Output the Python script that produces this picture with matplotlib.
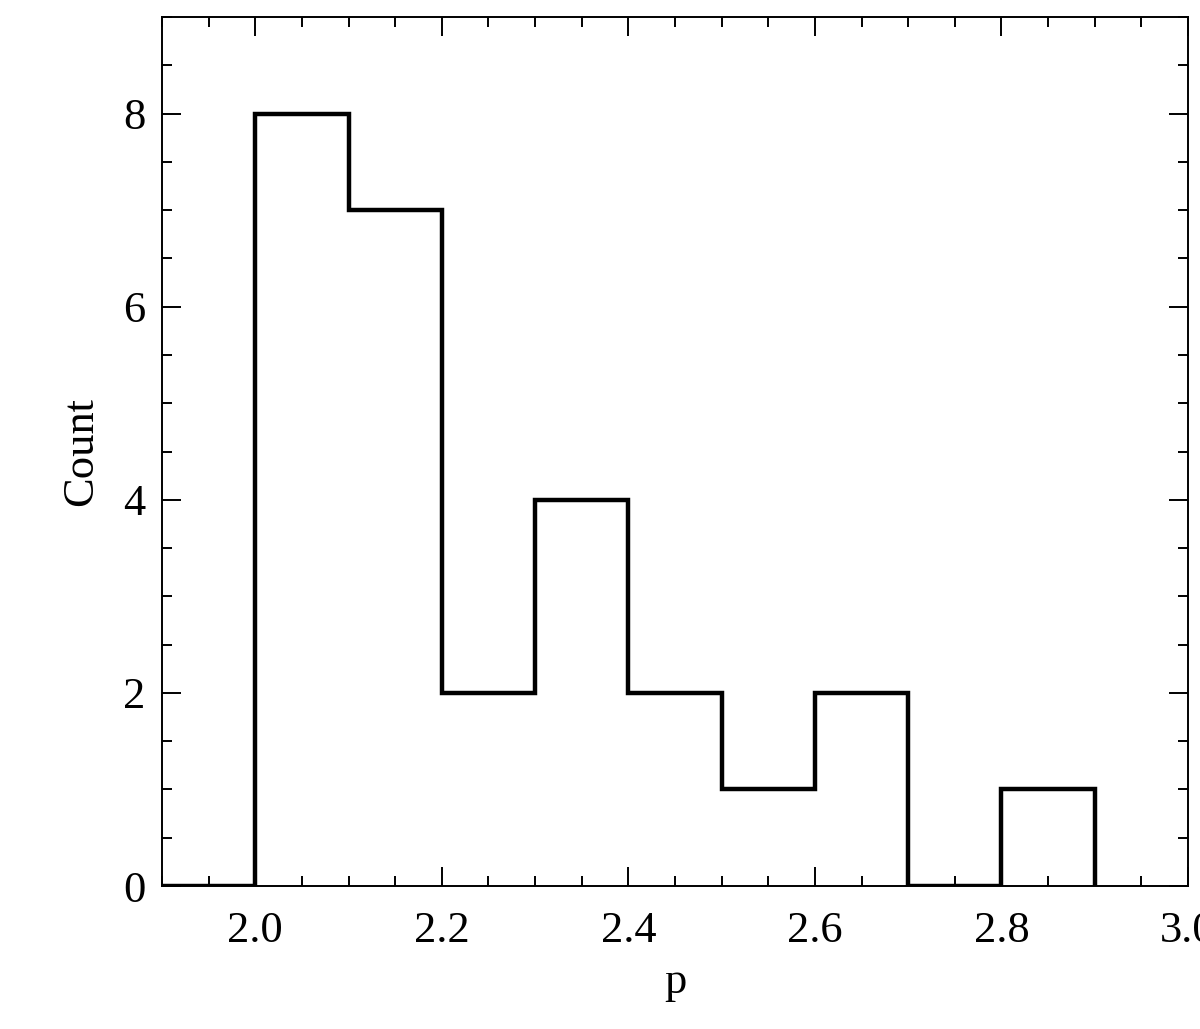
import numpy as np
import matplotlib.pyplot as plt
from matplotlib.ticker import MultipleLocator

# histogram of p, bin width 0.1
edges = [1.9, 2.0, 2.1, 2.2, 2.3, 2.4, 2.5, 2.6, 2.7, 2.8, 2.9]
counts = [0, 8, 7, 2, 4, 2, 1, 2, 0, 1]

plt.rcParams['font.family'] = ['Liberation Serif', 'DejaVu Serif']

fig = plt.figure(figsize=(12, 10.29), dpi=100)
ax = fig.add_axes([162/1200, 1 - 886/1029, (1188-162)/1200, (886-17)/1029])

ax.stairs(counts, edges, baseline=0, fill=False, color='black', linewidth=3.2)

ax.set_xlim(1.9, 3.0)
ax.set_ylim(0, 9)
ax.xaxis.set_major_locator(MultipleLocator(0.2))
ax.xaxis.set_minor_locator(MultipleLocator(0.05))
ax.yaxis.set_major_locator(MultipleLocator(2))
ax.yaxis.set_minor_locator(MultipleLocator(0.5))
ax.xaxis.set_major_formatter(plt.FuncFormatter(lambda v, p: f'{v:.1f}'))

ax.tick_params(which='both', direction='in', top=True, right=True, width=1.4,
               labelsize=32, colors='black')
ax.tick_params(which='major', length=14)
ax.tick_params(which='minor', length=7)
ax.tick_params(axis='x', pad=18)
ax.tick_params(axis='y', pad=12)
for s in ax.spines.values():
    s.set_linewidth(1.4)

ax.set_xlabel('p', fontsize=32, labelpad=8)
ax.set_ylabel('Count', fontsize=32, labelpad=16)

fig.savefig('out.png', dpi=100)
